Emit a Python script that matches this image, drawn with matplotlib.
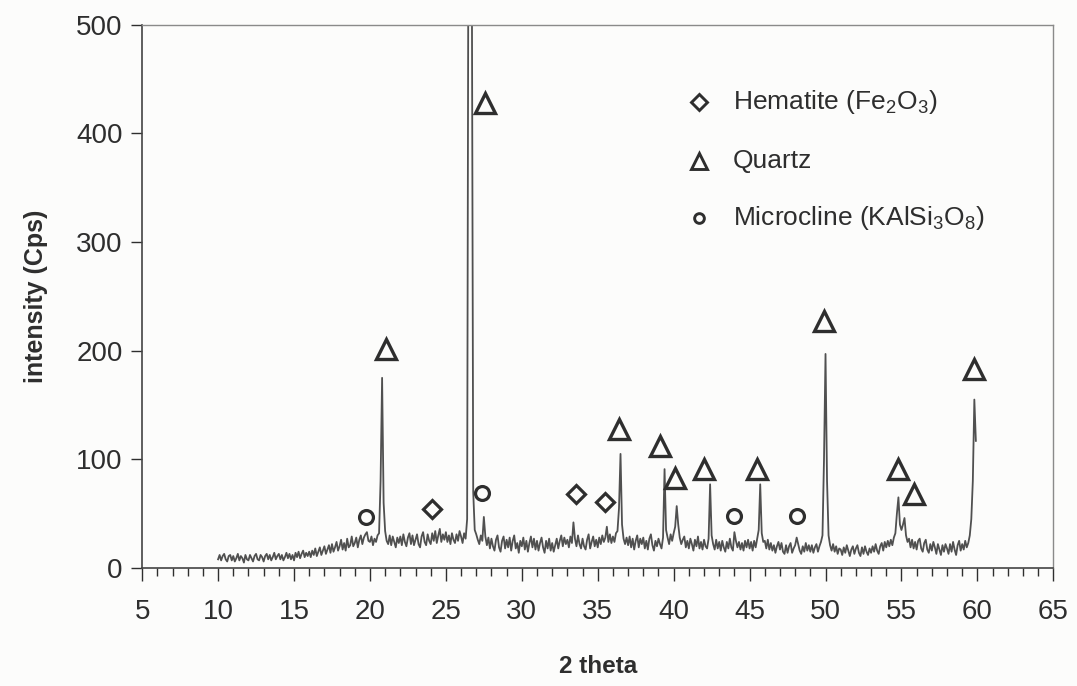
#!/usr/bin/env python3
"""XRD pattern of the clay sample with phase markers (quartz, hematite, microcline)."""
import numpy as np
import matplotlib
matplotlib.use('Agg')
import matplotlib.pyplot as plt
from matplotlib.ticker import MultipleLocator

plt.rcParams['font.family'] = ['Liberation Sans', 'DejaVu Sans']
plt.rcParams['mathtext.fontset'] = 'custom'
plt.rcParams['mathtext.rm'] = 'Liberation Sans'
plt.rcParams['mathtext.default'] = 'regular'

# scan: 10.0 .. 59.9 deg 2-theta, 0.1 deg step, one row per degree
TWO_THETA_START = 10.0
TWO_THETA_STEP = 0.1
counts = [
    8, 12, 7, 11, 13, 8, 6, 11, 12, 7,            # 10
    11, 6, 9, 13, 7, 11, 9, 5, 12, 8,             # 11
    7, 12, 9, 6, 11, 13, 8, 7, 12, 10,            # 12
    6, 11, 13, 8, 12, 7, 10, 14, 8, 11,           # 13
    13, 8, 12, 7, 10, 14, 9, 13, 8, 12,           # 14
    7, 14, 10, 15, 9, 13, 16, 10, 14, 11,         # 15
    15, 10, 16, 12, 18, 11, 15, 19, 12, 16,       # 16
    20, 13, 17, 21, 14, 22, 15, 19, 24, 16,       # 17
    20, 26, 17, 23, 16, 27, 19, 21, 29, 20,       # 18
    23, 28, 19, 26, 30, 22, 28, 31, 33, 25,       # 19
    24, 29, 21, 27, 24, 30, 32, 80, 175, 60,      # 20
    34, 25, 22, 30, 21, 29, 24, 19, 28, 23,       # 21
    29, 21, 31, 24, 20, 28, 32, 22, 30, 21,       # 22
    26, 31, 22, 19, 29, 33, 24, 21, 31, 25,       # 23
    22, 32, 25, 34, 23, 30, 36, 24, 31, 26,       # 24
    33, 24, 30, 22, 32, 26, 23, 31, 25, 34,       # 25
    29, 23, 32, 27, 45, 700, 1000, 600, 70, 35,   # 26
    31, 26, 22, 30, 25, 47, 29, 21, 28, 18,       # 27
    27, 20, 16, 26, 30, 19, 15, 25, 29, 18,       # 28
    26, 19, 28, 16, 25, 30, 18, 23, 14, 25,       # 29
    20, 28, 17, 25, 15, 23, 29, 19, 27, 17,       # 30
    25, 16, 23, 28, 19, 14, 25, 18, 27, 16,       # 31
    23, 15, 21, 27, 18, 25, 30, 20, 28, 22,       # 32
    26, 19, 29, 23, 42, 27, 20, 30, 22, 18,       # 33
    27, 20, 17, 26, 31, 18, 24, 29, 20, 26,       # 34
    19, 28, 22, 30, 24, 28, 38, 24, 31, 23,       # 35
    29, 24, 32, 34, 55, 105, 40, 27, 22, 28,      # 36
    21, 29, 19, 27, 17, 25, 30, 19, 27, 22,       # 37
    28, 18, 25, 17, 27, 31, 21, 16, 25, 20,       # 38
    27, 22, 18, 28, 91, 35, 28, 22, 31, 25,       # 39
    32, 38, 57, 40, 28, 22, 26, 29, 19, 25,       # 40
    18, 27, 22, 16, 26, 20, 29, 18, 24, 17,       # 41
    26, 20, 18, 27, 77, 30, 22, 17, 26, 18,       # 42
    24, 16, 25, 19, 15, 24, 18, 27, 19, 16,       # 43
    33, 25, 19, 24, 17, 23, 16, 25, 19, 26,       # 44
    18, 24, 16, 25, 19, 27, 35, 77, 32, 24,       # 45
    25, 18, 26, 17, 23, 16, 21, 14, 20, 24,       # 46
    17, 23, 15, 13, 21, 14, 20, 23, 14, 18,       # 47
    21, 28, 22, 16, 13, 20, 15, 23, 16, 21,       # 48
    15, 21, 14, 19, 22, 15, 20, 24, 30, 100,      # 49
    197, 80, 30, 21, 16, 22, 15, 20, 13, 18,      # 50
    17, 12, 19, 14, 21, 16, 11, 17, 20, 13,       # 51
    18, 21, 14, 11, 19, 13, 20, 15, 12, 18,       # 52
    14, 20, 15, 22, 16, 13, 20, 23, 16, 24,       # 53
    19, 25, 20, 26, 21, 28, 32, 50, 65, 40,       # 54
    35, 40, 46, 30, 24, 27, 19, 26, 18, 24,       # 55
    17, 25, 27, 18, 15, 23, 26, 17, 14, 22,       # 56
    16, 24, 19, 13, 22, 17, 12, 21, 15, 22,       # 57
    18, 13, 22, 15, 24, 17, 12, 21, 25, 16,       # 58
    22, 17, 25, 19, 23, 30, 45, 80, 155, 117,     # 59
]

# phase identification marks (2-theta, height where the symbol sits)
quartz_x = [21.05, 27.6, 36.4, 39.1, 40.1, 42.0, 45.5, 49.9, 54.8, 55.8, 59.75]
quartz_y = [202, 428, 128, 112, 83, 91, 91, 227, 91, 68, 183]
hematite_x = [24.1, 33.55, 35.5]
hematite_y = [54, 68, 61]
microcline_x = [19.75, 27.4, 43.95, 48.1]
microcline_y = [47, 69, 48, 48]

legend_labels = ['Hematite (Fe$_2$O$_3$)', 'Quartz', 'Microcline (KAlSi$_3$O$_8$)']

INK = '#2e2e2e'
LINE = '#505050'


def main():
    two_theta = np.round(TWO_THETA_START + TWO_THETA_STEP * np.arange(len(counts)), 1)

    fig = plt.figure(figsize=(10.77, 6.86), dpi=100, facecolor='#fcfcfb')
    ax = fig.add_axes([0.132, 0.172, 0.846, 0.792])
    ax.set_facecolor('#fcfcfb')

    ax.plot(two_theta, counts, color=LINE, linewidth=1.3)

    mk = dict(linestyle='none', markerfacecolor='none', markeredgecolor=INK, clip_on=False)
    ax.plot(quartz_x, quartz_y, marker='^', markersize=14.5, markeredgewidth=2.4, **mk)
    ax.plot(hematite_x, hematite_y, marker='D', markersize=9.5, markeredgewidth=2.3, **mk)
    ax.plot(microcline_x, microcline_y, marker='o', markersize=10, markeredgewidth=2.3, **mk)

    # legend, drawn by hand in axes coordinates
    leg_x, text_x = 0.611, 0.648
    leg_y = [0.857, 0.750, 0.644]
    leg_styles = [dict(marker='D', markersize=8, markeredgewidth=2.1),
                  dict(marker='^', markersize=11.5, markeredgewidth=2.1),
                  dict(marker='o', markersize=7, markeredgewidth=2.1)]
    for y, label, st in zip(leg_y, legend_labels, leg_styles):
        ax.plot([leg_x], [y], transform=ax.transAxes, **st, **mk)
        ax.text(text_x, y, label, transform=ax.transAxes, fontsize=19,
                color=INK, va='center', ha='left')

    ax.set_xlim(5, 65)
    ax.set_ylim(0, 500)
    ax.xaxis.set_major_locator(MultipleLocator(5))
    ax.xaxis.set_minor_locator(MultipleLocator(1))
    ax.yaxis.set_major_locator(MultipleLocator(100))

    ax.tick_params(axis='both', which='both', direction='out', colors=INK,
                   top=False, right=False, width=1.0)
    ax.tick_params(axis='x', which='major', length=9, pad=13, labelsize=20)
    ax.tick_params(axis='x', which='minor', length=6)
    ax.tick_params(axis='y', which='major', length=8, pad=6, labelsize=20)

    for side in ('left', 'bottom'):
        ax.spines[side].set_color('#444444')
        ax.spines[side].set_linewidth(1.2)
    for side in ('top', 'right'):
        ax.spines[side].set_color('#8a8a8a')
        ax.spines[side].set_linewidth(1.0)

    ax.set_xlabel('2 theta', fontsize=17.5, fontweight='bold', color=INK, labelpad=22)
    ax.set_ylabel('intensity (Cps)', fontsize=18, fontweight='bold', color=INK, labelpad=20)

    fig.savefig('out.png', dpi=100, facecolor=fig.get_facecolor())
    plt.close(fig)


if __name__ == '__main__':
    main()
